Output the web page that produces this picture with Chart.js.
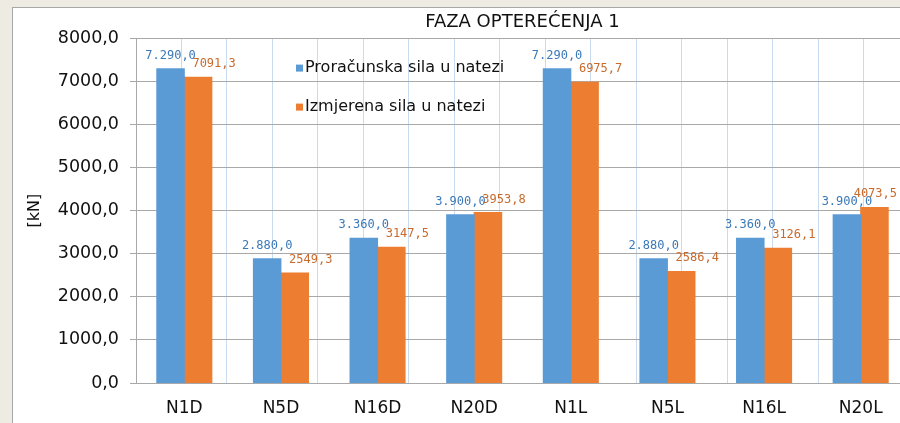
<!DOCTYPE html>
<html>
<head>
<meta charset="utf-8">
<script src="https://cdn.jsdelivr.net/npm/chart.js@4.4.1/dist/chart.umd.min.js"></script>
<style>
  body { margin: 0; background: #eeebe3; overflow: hidden; width: 900px; height: 423px; }
  #caja { position: absolute; left: 12px; top: 7px; width: 1000px; height: 440px; background: #fff; border: 1px solid #a8a8a8; }
  #grafica { display: block; }
</style>
</head>
<body>
<div id="caja"><canvas id="grafica" width="900" height="415"></canvas></div>
<script>
// Etiquetas de las categorias
const categorias = ["N1D", "N5D", "N16D", "N20D", "N1L", "N5L", "N16L", "N20L"];
// Series
const proracunska = [7290, 2880, 3360, 3900, 7290, 2880, 3360, 3900];
const izmjerena = [7091.3, 2549.3, 3147.5, 3953.8, 6975.7, 2586.4, 3126.1, 4073.5];
const nombres = ["Proračunska sila u natezi", "Izmjerena sila u natezi"];
// Eje Y
const ejeMin = 0, ejeMax = 8000, ejePaso = 1000;

const FUENTE = '"DejaVu Sans", Verdana, sans-serif';
const VISIBLE = 887; // ancho visible del canvas dentro de la ventana

// 7290 -> "7.290,0"
function conPuntos(v) {
  const partes = v.toFixed(1).split('.');
  return partes[0].replace(/\B(?=(\d{3})+(?!\d))/g, '.') + ',' + partes[1];
}
// 7091.3 -> "7091,3"
function sinPuntos(v) {
  return v.toFixed(1).replace('.', ',');
}

const coloresEtiqueta = ['#3a78b8', '#c86a2c'];
const desplazX = [0, 16];

const etiquetasPlugin = {
  id: 'etiquetas',
  afterDatasetsDraw(chart) {
    const ctx = chart.ctx;
    const area = chart.chartArea;
    ctx.save();
    // valores encima de las barras
    ctx.font = '12px "DejaVu Sans Mono", monospace';
    ctx.textAlign = 'center';
    ctx.textBaseline = 'alphabetic';
    chart.data.datasets.forEach((ds, i) => {
      const meta = chart.getDatasetMeta(i);
      meta.data.forEach((bar, j) => {
        const txt = i === 0 ? conPuntos(ds.data[j]) : sinPuntos(ds.data[j]);
        const mitad = ctx.measureText(txt).width / 2;
        const x = Math.min(bar.x + desplazX[i], VISIBLE - mitad - 3);
        ctx.fillStyle = coloresEtiqueta[i];
        ctx.fillText(txt, x, bar.y - 10);
      });
    });
    // leyenda dentro del area
    ctx.font = '16px ' + FUENTE;
    ctx.textAlign = 'left';
    ctx.textBaseline = 'middle';
    chart.data.datasets.forEach((ds, i) => {
      const y = area.top + 30 + i * 39;
      ctx.fillStyle = ds.backgroundColor;
      ctx.fillRect(area.left + 160, y - 3.5, 7, 7);
      ctx.fillStyle = '#111';
      ctx.fillText(ds.label, area.left + 169, y);
    });
    ctx.restore();
  }
};

new Chart(document.querySelector('#grafica'), {
  type: 'bar',
  data: {
    labels: categorias,
    datasets: [
      { label: nombres[0], data: proracunska, xAxisID: 'x', yAxisID: 'y', backgroundColor: '#5b9bd5', borderWidth: 0, inflateAmount: 0.5 },
      { label: nombres[1], data: izmjerena, xAxisID: 'x', yAxisID: 'y', backgroundColor: '#ed7d31', borderWidth: 0, inflateAmount: 0.5 }
    ]
  },
  options: {
    responsive: false,
    animation: false,
    devicePixelRatio: 1,
    layout: { padding: { left: 0, right: 4, top: 0, bottom: 0 } },
    datasets: { bar: { categoryPercentage: 0.57, barPercentage: 1 } },
    plugins: {
      legend: { display: false },
      tooltip: { enabled: false },
      title: {
        display: true,
        text: 'FAZA OPTEREĆENJA 1',
        fullSize: false,
        color: '#111',
        font: { family: FUENTE, size: 18, weight: 'normal' },
        padding: { top: 4, bottom: 4.5 }
      }
    },
    scales: {
      x2: {
        type: 'linear',
        position: 'bottom',
        min: 0, max: 16,
        afterFit: (s) => { s.height = 0; },
        ticks: { display: false, stepSize: 1 },
        grid: { color: '#c8dbef', drawTicks: false },
        border: { display: false }
      },
      x: {
        afterFit: (s) => { s.height = 40; },
        grid: { display: false },
        border: { display: true, color: '#a8a8a8' },
        ticks: { color: '#111', padding: 7, font: { family: FUENTE, size: 17 } }
      },
      y: {
        min: ejeMin, max: ejeMax,
        afterFit: (s) => { s.width = 123; },
        ticks: {
          stepSize: ejePaso,
          padding: 11,
          color: '#111',
          font: { family: FUENTE, size: 17.5 },
          callback: (v) => sinPuntos(v)
        },
        grid: { color: '#a8a8a8', tickLength: 6, tickColor: '#a8a8a8' },
        border: { color: '#a8a8a8' },
        title: {
          display: true,
          text: '[kN]',
          color: '#111',
          font: { family: FUENTE, size: 16 },
          padding: { top: 12, bottom: 0 }
        }
      }
    }
  },
  plugins: [etiquetasPlugin]
});
</script>
</body>
</html>
